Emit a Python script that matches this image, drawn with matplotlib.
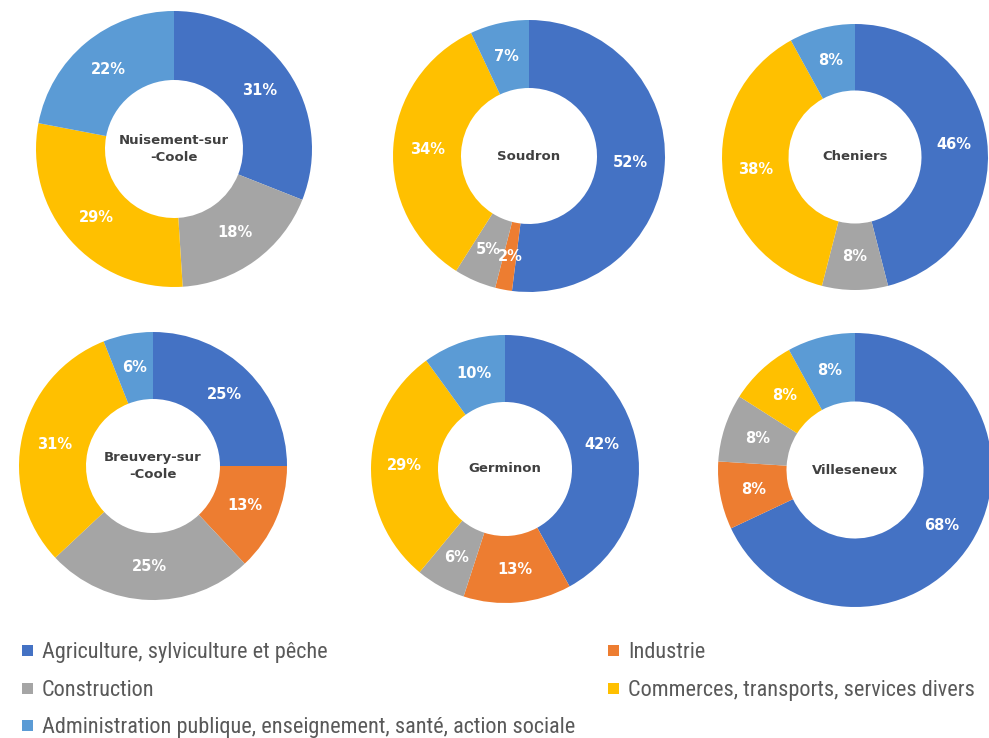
import matplotlib
matplotlib.use("Agg")
import matplotlib.pyplot as plt
from matplotlib import font_manager
from matplotlib.font_manager import FontProperties
from matplotlib.patches import Rectangle

sectors = ["Agriculture, sylviculture et pêche", "Industrie", "Construction",
           "Commerces, transports, services divers",
           "Administration publique, enseignement, santé, action sociale"]
colors = ["#4472C4", "#ED7D31", "#A5A5A5", "#FFC000", "#5B9BD5"]

communes = ["Nuisement-sur\n-Coole", "Soudron", "Cheniers",
            "Breuvery-sur\n-Coole", "Germinon", "Villeseneux"]
nuisement = [31, 0, 18, 29, 22]
soudron = [52, 2, 5, 34, 7]
cheniers = [46, 0, 8, 38, 8]
breuvery = [25, 13, 25, 31, 6]
germinon = [42, 13, 6, 29, 10]
villeseneux = [68, 8, 8, 8, 8]
values = [nuisement, soudron, cheniers, breuvery, germinon, villeseneux]

# centre (px) and outer radius (px) of each donut
W, H = 989, 738
centres = [(174, 149, 138), (529, 156, 136), (855, 157, 133),
           (153, 466, 134), (505, 469, 134), (855, 470, 137)]

fig = plt.figure(figsize=(W / 100, H / 100), dpi=100)

for name, vals, (cx, cy, r) in zip(communes, values, centres):
    ax = fig.add_axes([(cx - r) / W, (H - cy - r) / H, 2 * r / W, 2 * r / H])
    keep = [i for i, v in enumerate(vals) if v > 0]
    ax.pie([vals[i] for i in keep], colors=[colors[i] for i in keep],
           startangle=90, counterclock=False, radius=1.0,
           wedgeprops=dict(width=0.5, edgecolor="none"),
           autopct="%1.0f%%", pctdistance=0.75,
           textprops=dict(color="white", fontsize=10.5, fontweight="bold"))
    ax.text(0, 0, name, ha="center", va="center", fontsize=9.5,
            fontweight="bold", color="#404040", linespacing=1.35)
    ax.set_xlim(-1, 1)
    ax.set_ylim(-1, 1)
    ax.set_aspect("equal")
    ax.axis("off")

# legend font: a condensed face if one is installed
cond = None
for f in font_manager.fontManager.ttflist:
    low = (f.name + " " + f.fname).lower()
    if ("condensed" in low or "narrow" in low) and "bold" not in low \
            and "italic" not in low and "light" not in low:
        cond = f.fname
        if "liberation" in low or "roboto" in low:
            break
if cond:
    legprop = FontProperties(fname=cond, size=14)
else:
    legprop = FontProperties(family="DejaVu Sans", size=14, stretch="condensed")

# scale the size so the first label spans about 288 px
renderer = fig.canvas.get_renderer()
w, h, d = renderer.get_text_width_height_descent(sectors[0], legprop, ismath=False)
legprop.set_size(14 * 288 / w)

# legend rows: (x of square, y centre), in pixels
rows = [(22, 650, 0), (608, 650, 1), (22, 688, 2), (608, 688, 3), (22, 725, 4)]
for x, y, i in rows:
    fig.patches.append(Rectangle((x / W, 1 - (y + 5.5) / H), 11 / W, 11 / H,
                                 transform=fig.transFigure, facecolor=colors[i],
                                 edgecolor="none"))
    fig.text((x + 20) / W, 1 - y / H, sectors[i], ha="left", va="center_baseline",
             fontproperties=legprop, color="#595959")

fig.savefig("out.png", dpi=100)
